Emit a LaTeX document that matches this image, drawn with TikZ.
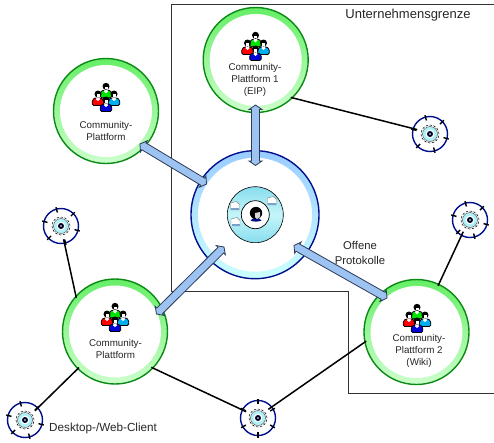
\documentclass[tikz,border=0pt]{standalone}
\usepackage{fontspec}
\setmainfont{Liberation Sans}
\usetikzlibrary{calc}
\definecolor{txt}{HTML}{262626}
\definecolor{gdark}{HTML}{0B8A14}
\definecolor{gtop}{HTML}{66EE66}
\definecolor{gbot}{HTML}{CCFFCC}
\definecolor{navy}{HTML}{000F8C}
\definecolor{btop}{HTML}{99CCFF}
\definecolor{bbot}{HTML}{CCFFFF}
\definecolor{afill}{HTML}{9CC3F2}
\definecolor{aline}{HTML}{2E3A55}
\definecolor{dtop}{HTML}{88DDEE}
\definecolor{dmid}{HTML}{C4F6FA}
\tikzset{
 x=1pt,y=-1pt,
 ringg/.style={circle,draw=gdark,line width=1.4pt,top color=gtop,bottom color=gbot,minimum size=105pt,inner sep=0pt,outer sep=0pt},
 ringin/.style={circle,fill=white,minimum size=92pt,inner sep=0pt},
 ringb/.style={circle,draw=navy,line width=1.4pt,top color=btop,bottom color=bbot,minimum size=128pt,inner sep=0pt,outer sep=0pt},
 ringbin/.style={circle,fill=white,minimum size=114pt,inner sep=0pt},
 discn/.style={circle,draw=black,line width=.6pt,top color=dtop,bottom color=dtop,middle color=dmid,minimum size=56pt,inner sep=0pt},
 discin/.style={circle,draw=black,line width=.7pt,fill=white,minimum size=28pt,inner sep=0pt},
 cring/.style={circle,draw=navy,line width=1.4pt,fill=white,minimum size=35pt,inner sep=0pt,outer sep=0pt},
 cin/.style={circle,minimum size=27pt,inner sep=0pt,outer sep=0pt},
 wire/.style={black,line width=1.5pt,shorten <=-1.5pt},
 blockarrow/.style={draw=aline,line width=.8pt,fill=afill,line join=miter},
 bound/.style={draw=black!80,line width=.9pt},
 lab/.style={text=txt,font=\fontsize{9.8}{12}\selectfont,align=center,inner sep=0pt},
 biglab/.style={text=txt,font=\fontsize{11.3}{14.5}\selectfont,align=center,inner sep=0pt},
}
\newcommand{\blockarrow}[2]{\draw[blockarrow] (#1) -- ($(#1)!4.5pt!(#2)!6.5pt!90:(#2)$) -- ($(#1)!4.5pt!(#2)!4pt!90:(#2)$) -- ($(#2)!4.5pt!(#1)!4pt!-90:(#1)$) -- ($(#2)!4.5pt!(#1)!6.5pt!-90:(#1)$) -- (#2) -- ($(#2)!4.5pt!(#1)!6.5pt!90:(#1)$) -- ($(#2)!4.5pt!(#1)!4pt!90:(#1)$) -- ($(#1)!4.5pt!(#2)!4pt!-90:(#2)$) -- ($(#1)!4.5pt!(#2)!6.5pt!-90:(#2)$) -- cycle;}
\newcommand{\personfig}[3]{%
 \begin{scope}[shift={(#1,#2)}]
 \draw[fill=#3,draw=black,line width=.8pt,rounded corners=1.5pt] (-5.8,11.5) -- (-5.8,6) -- (-2.5,3.6) -- (2.5,3.6) -- (5.8,6) -- (5.8,11.5) -- cycle;
 \fill[white] (-1.5,2) -- (1.5,2) -- (1.8,5.5) -- (0,7) -- (-1.8,5.5) -- cycle;
 \fill[black] (0,0) circle (3.5pt);
 \fill[white] (-1.5,.3) rectangle (1.5,3);
 \end{scope}}
\newcommand{\peopleicon}[2]{%
 \begin{scope}[shift={(#1,#2)}]
 \personfig{0}{-10.7}{green!90!black}
 \personfig{-8}{-3}{red}
 \personfig{8}{-3}{cyan}
 \personfig{0}{3}{blue!85!black}
 \end{scope}}
\newcommand{\clientfig}[4]{%
 \node[cring] (#1) at (#2,#3) {};
 \node[cin] (#1-i) at (#2,#3) {};
 \begin{scope}[shift={(#2,#3)}]
 \foreach \a in {0,60,...,300} \draw[black,line width=1.4pt] (\a+#4:14pt) -- (\a+#4:19.5pt);
 \fill[bbot!55!dtop] (0,0) circle (7.5pt);
 \draw[black!75,line width=.4pt] (0,0) circle (7.5pt);
 \draw[black,line width=.5pt,dash pattern=on 2.5pt off 1.5pt] (0,0) circle (9pt);
 \fill[white] (0,0) circle (4.4pt);
 \fill[black!70!navy] (0,0) circle (3pt);
 \fill[white] (0,0) circle (.9pt);
 \end{scope}}
\newcommand{\docfig}[2]{%
 \begin{scope}[shift={(#1,#2)}]
 \draw[fill=white,draw=black!50,line width=.4pt] (-4.5,4) -- (-4.5,-3) -- (1.5,-4.5) -- (4.5,-1.5) -- (4.5,4) -- cycle;
 \fill[btop!80!black] (-4,1.5) rectangle (4,3.7);
 \end{scope}}
\begin{document}
\begin{tikzpicture}
\useasboundingbox (0,0) rectangle (494,442);
\fill[white] (0,0) rectangle (494,442);
% company boundary
\draw[bound] (494,4) -- (171.5,4) -- (171.5,291.5) -- (348.3,291.5) -- (348.3,393.5) -- (494,393.5);
% communities
\node[ringg] (ctop) at (255.7,60) {};
\node[ringin] (ctopi) at (255.7,60) {};
\node[ringg] (cleft) at (106,111) {};
\node[ringin] (clefti) at (106,111) {};
\node[ringg] (cbl) at (115,331.5) {};
\node[ringin] (cbli) at (115,331.5) {};
\node[ringg] (cright) at (416.5,332) {};
\node[ringin] (crighti) at (416.5,332) {};
% hub
\node[ringb] (hub) at (255,214.7) {};
\node[ringbin] (hubi) at (255,214.7) {};
\node[discn] (disc) at (255.3,214.7) {};
\node[discin] (discc) at (255.3,214.7) {};
\docfig{235}{206}
\docfig{235.5}{222}
\docfig{272}{201}
\begin{scope}[shift={(256,214)}]
 \fill[navy] (-5.5,6.5) .. controls (-3,3) and (3,3) .. (5.5,6.5) .. controls (3,8) and (-3,8) .. (-5.5,6.5) -- cycle;
 \fill[black] (0,-1) circle (6.2pt);
 \fill[white!85!black] (-1,-1) -- (4,-2) -- (4,3) -- (1,5) -- (-1,3) -- cycle;
\end{scope}
% clients
\clientfig{k1}{430}{134}{45}
\clientfig{k2}{61}{226}{45}
\clientfig{k3}{25}{420}{45}
\clientfig{k4}{258}{418}{30}
\clientfig{k5}{470}{220}{45}
% wires
\draw[wire] (ctop.-46) -- (k1-i.161);
\draw[wire] (cbl.138) -- (k2-i.-79);
\draw[wire] (cbl.-135) -- (k3-i.43);
\draw[wire] (cbl.-44) -- (k4-i.152);
\draw[wire] (cright.191) -- (k4-i.40);
\draw[wire] (cright.65) -- (k5-i.-120);
% block arrows
\coordinate (a1) at (255.5,105);
\coordinate (a2) at (255.5,165.5);
\coordinate (b1) at (140,144);
\coordinate (b2) at (206.5,184);
\coordinate (c1) at (156.5,314);
\coordinate (c2) at (224,247);
\coordinate (d1) at (294,245.5);
\coordinate (d2) at (387,298);
\blockarrow{a1}{a2}
\blockarrow{b1}{b2}
\blockarrow{c1}{c2}
\blockarrow{d1}{d2}
% icons
\peopleicon{255.5}{46}
\peopleicon{106}{97}
\peopleicon{115}{317}
\peopleicon{417}{318}
% labels
\node[lab] (t1) at (255,80) {Community-\\Plattform 1\\(EIP)};
\node[lab] (t2) at (106,131) {Community-\\Plattform};
\node[lab] (t3) at (115.5,348.5) {Community-\\Plattform};
\node[lab] (t4) at (419,351) {Community-\\Plattform 2\\(Wiki)};
\node[text=txt,inner sep=0pt,font=\fontsize{13}{15}\selectfont] (t5) at (408,15) {Unternehmensgrenze};
\node[text=txt,inner sep=0pt,font=\fontsize{11.7}{14}\selectfont,anchor=west] (t6) at (49,428) {Desktop-/Web-Client};
\node[biglab] (t7) at (360,253) {Offene\\Protokolle};
\end{tikzpicture}
\end{document}
